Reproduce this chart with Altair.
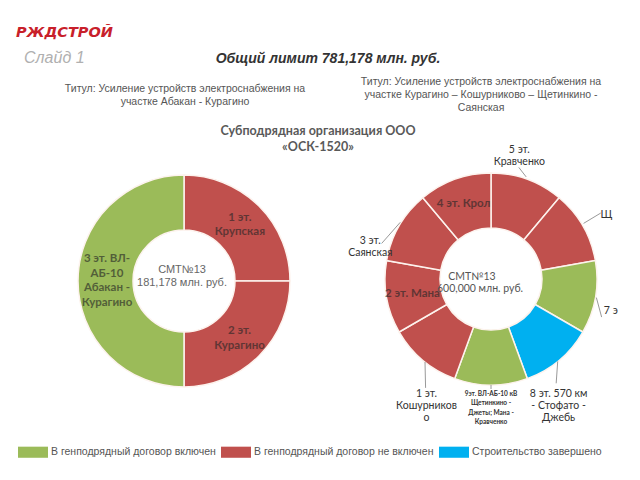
import altair as alt
import pandas as pd

# ---------------- data ----------------
status_names = [
    "В генподрядный договор включен",
    "В генподрядный договор не включен",
    "Строительство завершено",
]
status_colors = ["#9BBB59", "#C0504D", "#00B0F0"]

# left ring: Абакан - Курагино (clockwise from 12 o'clock)
left_segments = ["1 эт. Крупская", "2 эт. Курагино", "3 эт. ВЛ-АБ-10 Абакан - Курагино"]
left_values = [25, 25, 50]
left_status = [1, 1, 0]
left_labels = ["1 эт.\nКрупская", "2 эт.\nКурагино", "3 эт. ВЛ-\nАБ-10\nАбакан -\nКурагино"]

# right ring: Курагино - Кошурниково - Щетинкино - Саянская (clockwise from 12 o'clock)
right_segments = [
    "5 эт. Кравченко", "Щ", "7 э", "8 эт. 570 км - Стофато - Джебь",
    "9эт. ВЛ-АБ-10 кВ Щетинкино - Джеты; Мана - Кравченко",
    "1 эт. Кошурниково", "2 эт. Мана", "3 эт. Саянская", "4 эт. Крол",
]
right_values = [1, 1, 1, 1, 1, 1, 1, 1, 1]
right_status = [1, 1, 0, 2, 0, 1, 1, 1, 1]
right_labels = [
    "5 эт.\nКравченко", "Щ", "7 э", "8 эт. 570 км\n- Стофато -\nДжебь",
    "9эт. ВЛ-АБ-10 кВ\nЩетинкино -\nДжеты; Мана -\nКравченко",
    "1 эт.\nКошурников\nо", "2 эт. Мана", "3 эт.\nСаянская", "4 эт. Крол",
]

left_center = ["СМТ№13", "181,178 млн. руб."]
right_center = ["СМТ№13", "600,000 млн. руб."]

# ---------------- layout (styles, not data) ----------------
# per label: kind, label radius, angle nudge (deg), leader start nudge, start r, end nudge, end r
left_layout = [
    ("in", 79, 0, 0, 0, 0, 0),
    ("in", 80, 1, 0, 0, 0, 0),
    ("in", 77, 0, 0, 0, 0, 0),
]
right_layout = [
    ("out", 126, -7, -1, 108, -6, 115),
    ("out", 132, 1, -1, 108, -1, 128),
    ("out", 124, 5, 0, 107, 9, 117),
    ("out", 144, 12, 1, 106, 8, 123),
    ("tiny", 129, 0, 0, 106, 0, 110),
    ("out", 142, -13, -1.5, 106, -9, 127),
    ("in", 80, -1, 0, 0, 0, 0),
    ("out", 125, -15, 2, 107, -12, 115),
    ("in", 80, 0, 0, 0, 0, 0),
]

OFF = 8  # page margin
LCX, LCY = 184 - OFF, 281 - OFF
RCX, RCY = 491 - OFF, 279 - OFF
R_IN, R_OUT = 51, 106


def make_df(segs, vals, stats, labels, layout):
    return pd.DataFrame({
        "seg": segs,
        "value": vals,
        "idx": list(range(len(segs))),
        "status": [status_names[s] for s in stats],
        "label": labels,
        "kind": [l[0] for l in layout],
        "lr": [l[1] for l in layout],
        "la": [l[2] for l in layout],
        "sa": [l[3] for l in layout],
        "sr": [l[4] for l in layout],
        "ea": [l[5] for l in layout],
        "er": [l[6] for l in layout],
    })


left_df = make_df(left_segments, left_values, left_status, left_labels, left_layout)
right_df = make_df(right_segments, right_values, right_status, right_labels, right_layout)

color_scale = alt.Scale(domain=status_names, range=status_colors)
legend = alt.Legend(
    orient="none", legendX=10, legendY=429, direction="horizontal", title=None,
    symbolType="M-1,-0.37H1V0.37H-1Z", symbolSize=900, symbolStrokeWidth=0,
    symbolOpacity=1, labelFont="Liberation Sans", labelFontSize=10.5,
    labelColor="#555555", labelOffset=3, columnPadding=5, labelLimit=400, padding=0,
)


def ring(df, cx, cy, show_legend):
    return alt.Chart(df).mark_arc(
        innerRadius=R_IN, outerRadius=R_OUT, stroke="#fdf3ee", strokeWidth=1.5
    ).encode(
        theta=alt.Theta("value:Q", stack=True),
        order=alt.Order("idx:Q"),
        color=alt.Color("status:N", scale=color_scale, legend=legend if show_legend else None),
        x=alt.value(cx),
        y=alt.value(cy),
    )


def polar_base(df, cx, cy, lh=0):
    return alt.Chart(df).transform_window(
        cum="sum(value)", sort=[alt.SortField("idx")]
    ).transform_joinaggregate(total="sum(value)").transform_calculate(
        mid="(datum.cum - datum.value/2)/datum.total*2*PI",
        nl="split(datum.label, '\\n').length",
    ).transform_calculate(
        lx=f"{cx} + datum.lr*sin(datum.mid + datum.la*PI/180)",
        ly=f"{cy} - datum.lr*cos(datum.mid + datum.la*PI/180) - (datum.nl - 1)*{lh}/2",
        sx=f"{cx} + datum.sr*sin(datum.mid + datum.sa*PI/180)",
        sy=f"{cy} - datum.sr*cos(datum.mid + datum.sa*PI/180)",
        ex=f"{cx} + datum.er*sin(datum.mid + datum.ea*PI/180)",
        ey=f"{cy} - datum.er*cos(datum.mid + datum.ea*PI/180)",
    )


def labels(df, cx, cy, kind, lineHeight, **props):
    return polar_base(df, cx, cy, lineHeight).transform_filter(
        alt.datum.kind == kind
    ).mark_text(
        lineBreak="\n", align="center", baseline="middle", lineHeight=lineHeight, **props
    ).encode(
        x=alt.X("lx:Q", scale=None, axis=None),
        y=alt.Y("ly:Q", scale=None, axis=None),
        text="label:N",
    )


def leaders(df, cx, cy):
    return polar_base(df, cx, cy).transform_filter(alt.datum.sr > 0).mark_rule(
        color="#7f7f7f", strokeWidth=0.8
    ).encode(
        x=alt.X("sx:Q", scale=None, axis=None),
        y=alt.Y("sy:Q", scale=None, axis=None),
        x2="ex:Q",
        y2="ey:Q",
    )


def note(text, x, y_first_line, **props):
    return alt.Chart(alt.Data(values=[{}])).mark_text(
        lineBreak="\n", baseline="middle", **props
    ).encode(x=alt.value(x), y=alt.value(y_first_line), text=alt.value(text))


inside_style = dict(font="Lato", fontSize=11.5, fontWeight="bold", color="#262626", opacity=0.62)

layers = [
    ring(left_df, LCX, LCY, True),
    ring(right_df, RCX, RCY, False),
    labels(left_df, LCX, LCY, "in", 14.5, **inside_style),
    labels(right_df, RCX, RCY, "in", 13, **inside_style),
    leaders(right_df, RCX, RCY),
    labels(right_df, RCX, RCY, "out", 12, font="Lato", fontSize=10.5, color="#333333"),
    labels(right_df, RCX, RCY, "tiny", 9.5, font="Lato", fontSize=6.5, fontWeight="bold",
           color="#333333"),
    note("\n".join(left_center), 182 - OFF, 270 - OFF, align="center",
         font="Liberation Sans", fontSize=11, color="#666666", lineHeight=13),
    note(right_center[0], 472 - OFF, 277 - OFF, align="center",
         font="Lato", fontSize=10.5, color="#555555"),
    note(right_center[1], 480 - OFF, 289 - OFF, align="center",
         font="Lato", fontSize=10.5, color="#555555"),
    note("РЖДСТРОЙ", 16 - OFF, 33 - OFF, align="left", font="DejaVu Sans",
         fontSize=14.5, fontWeight="bold", fontStyle="italic", color="#C8202A"),
    note("Слайд 1", 24 - OFF, 58 - OFF, align="left", font="Liberation Sans",
         fontSize=16, fontStyle="italic", color="#B0B0B0"),
    note("Общий лимит 781,178 млн. руб.", 328 - OFF, 59 - OFF, align="center",
         font="Liberation Sans", fontSize=14, fontWeight="bold", fontStyle="italic",
         color="#333333"),
    note("Титул: Усиление устройств электроснабжения на\nучастке Абакан - Курагино",
         185 - OFF, 89 - OFF, align="center", font="Liberation Sans", fontSize=10.5,
         color="#555555", lineHeight=13),
    note("Титул: Усиление устройств электроснабжения на\nучастке Курагино – Кошурниково – Щетинкино -\nСаянская",
         481 - OFF, 82 - OFF, align="center", font="Liberation Sans", fontSize=10.5,
         color="#555555", lineHeight=13),
    note("Субподрядная организация ООО\n«ОСК-1520»", 318 - OFF, 131 - OFF, align="center",
         font="Lato", fontSize=12.5, fontWeight="bold", color="#595959", lineHeight=16),
]

chart = alt.layer(*layers).resolve_scale(theta="independent").properties(
    width=624, height=464, padding=0,
    autosize=alt.AutoSizeParams(type="none"),
).configure_view(strokeWidth=0)

chart.save("out.html", embed_options={"renderer": "svg", "actions": False})
